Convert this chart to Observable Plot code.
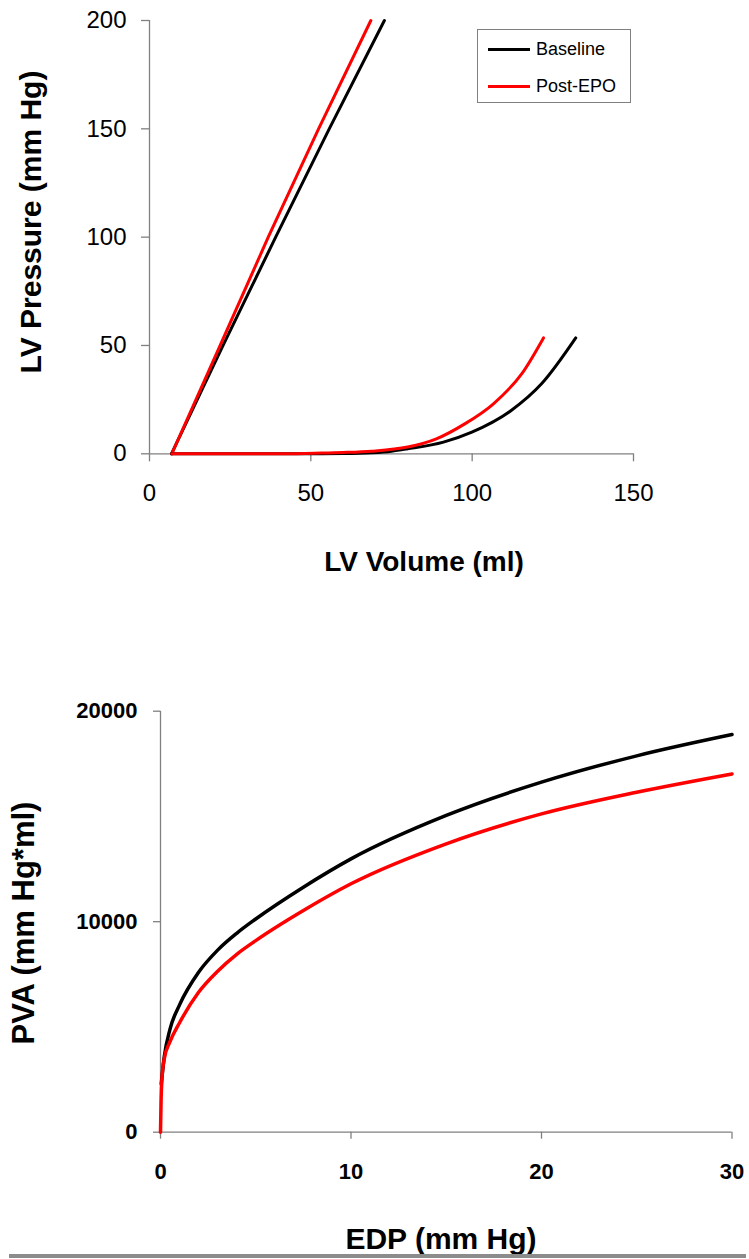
<!DOCTYPE html>
<html>
<head>
<meta charset="utf-8">
<script src="https://cdn.jsdelivr.net/npm/d3@7"></script>
<script src="https://cdn.jsdelivr.net/npm/@observablehq/plot@0.6"></script>
<style>
  body { margin: 0; background: #fff; }
  #wrap { position: relative; width: 749px; height: 1259px; overflow: hidden; font-family: "Liberation Sans", Arial, sans-serif; background: #fff; }
  .chart { position: absolute; left: 0; }
  .t { position: absolute; white-space: nowrap; line-height: 1; font-weight: bold; color: #000; transform: translate(-50%, -50%); }
  .r { transform: translate(-50%, -50%) rotate(-90deg); }
  #legend { position: absolute; left: 477px; top: 29px; width: 152px; height: 72px; border: 1.5px solid #808080; background: #fff; }
  .lg-line { position: absolute; left: 10px; width: 42px; height: 3px; }
  .lg-text { position: absolute; left: 58px; font-size: 18px; line-height: 1; color: #000; transform: translateY(-50%); }
  #rulebar { position: absolute; left: 9px; top: 1254px; width: 737px; height: 4px; background: #8c8c8c; }
</style>
</head>
<body>
<div id="wrap"></div>
<script>
// ---------- data ----------
const groups = ["Baseline", "Post-EPO"];
const groupColors = ["#000000", "#ff0000"];

// Top chart: pressure–volume relations
const espvrPressure = [0, 50, 100, 150, 200];
const espvrVolBaseline = [6.8, 22.8, 39.1, 55.7, 72.8];
const espvrVolPostEPO = [6.9, 21.9, 36.8, 52.4, 68.6];

const edpvrVolBaseline = [6.8, 30, 50, 60, 68.9, 75, 80, 91.1, 99.9, 112.1, 121.5, 132.1];
const edpvrPresBaseline = [0, 0, 0, 0.1, 0.5, 1.2, 2.3, 5.4, 10, 20, 32.3, 53.5];
const edpvrVolPostEPO = [6.9, 30, 40, 51.2, 60, 68.9, 80, 88.9, 97.7, 106.6, 115.4, 122.1];
const edpvrPresPostEPO = [0, 0, 0, 0.3, 0.6, 1.2, 3.1, 6.9, 13.8, 23.1, 37, 53.5];

const volumeTicks = [0, 50, 100, 150];
const pressureTicks = [0, 50, 100, 150, 200];

// Bottom chart: PVA vs EDP
const edpBaseline = [0.04, 0.2, 0.5, 1, 2, 3, 4, 5, 7.5, 10, 15, 20, 25, 30];
const pvaBaseline = [2300, 3600, 4900, 6050, 7600, 8650, 9450, 10130, 11640, 12985, 15050, 16630, 17880, 18890];
const edpPostEPO = [0, 0.03, 0.08, 0.2, 0.5, 1, 2, 3, 4, 5, 7.5, 10, 15, 20, 25, 30];
const pvaPostEPO = [0, 1500, 2600, 3500, 4300, 5200, 6650, 7650, 8450, 9100, 10530, 11800, 13700, 15120, 16150, 17020];

const edpTicks = [0, 10, 20, 30];
const pvaTicks = [0, 10000, 20000];

// ---------- tables ----------
const espvrRows = [
  ...espvrPressure.map((p, i) => ({group: groups[0], v: espvrVolBaseline[i], p})),
  ...espvrPressure.map((p, i) => ({group: groups[1], v: espvrVolPostEPO[i], p}))
];
const edpvrRows = [
  ...edpvrVolBaseline.map((v, i) => ({group: groups[0], v, p: edpvrPresBaseline[i]})),
  ...edpvrVolPostEPO.map((v, i) => ({group: groups[1], v, p: edpvrPresPostEPO[i]}))
];
const pvaRows = [
  ...edpBaseline.map((e, i) => ({group: groups[0], e, pva: pvaBaseline[i]})),
  ...edpPostEPO.map((e, i) => ({group: groups[1], e, pva: pvaPostEPO[i]}))
];

const axisGray = "#808080";
const font = "Liberation Sans, Arial, sans-serif";
const wrap = document.getElementById("wrap");

// ---------- top chart ----------
const topChart = Plot.plot({
  width: 749, height: 600,
  marginLeft: 149, marginRight: 116, marginTop: 20, marginBottom: 146.7,
  style: {fontFamily: font, background: "transparent", overflow: "visible"},
  x: {domain: [0, 150]},
  y: {domain: [0, 200]},
  color: {domain: groups, range: groupColors},
  marks: [
    Plot.axisX({ticks: volumeTicks, tickSize: 8, tickPadding: 22, fontSize: 24, stroke: axisGray, strokeWidth: 1.3, fill: "#000", label: null, tickFormat: d => String(d)}),
    Plot.axisY({ticks: pressureTicks, tickSize: 8, tickPadding: 15, fontSize: 24, stroke: axisGray, strokeWidth: 1.3, fill: "#000", label: null, tickFormat: d => String(d)}),
    Plot.ruleY([0], {stroke: axisGray, strokeWidth: 1.3}),
    Plot.ruleX([0], {stroke: axisGray, strokeWidth: 1.3}),
    Plot.line(espvrRows, {x: "v", y: "p", z: "group", stroke: "group", strokeWidth: 3, curve: "linear"}),
    Plot.line(edpvrRows, {x: "v", y: "p", z: "group", stroke: "group", strokeWidth: 3, curve: "monotone-x"})
  ]
});
topChart.classList.add("chart");
topChart.style.top = "0px";
wrap.appendChild(topChart);

// ---------- bottom chart ----------
const bottomChart = Plot.plot({
  width: 749, height: 659,
  marginLeft: 160, marginRight: 17.5, marginTop: 110.7, marginBottom: 127.3,
  style: {fontFamily: font, background: "transparent", overflow: "visible"},
  x: {domain: [0, 30]},
  y: {domain: [0, 20000]},
  color: {domain: groups, range: groupColors},
  marks: [
    Plot.axisX({ticks: edpTicks, tickSize: 7, tickPadding: 24, fontSize: 22, fontWeight: "bold", stroke: axisGray, strokeWidth: 1.3, fill: "#000", label: null, tickFormat: d => String(d)}),
    Plot.axisY({ticks: pvaTicks, tickSize: 7, tickPadding: 16, fontSize: 22, fontWeight: "bold", stroke: axisGray, strokeWidth: 1.3, fill: "#000", label: null, tickFormat: d => String(d)}),
    Plot.ruleY([0], {stroke: axisGray, strokeWidth: 1.3}),
    Plot.ruleX([0], {stroke: axisGray, strokeWidth: 1.3}),
    Plot.line(pvaRows, {x: "e", y: "pva", z: "group", stroke: "group", strokeWidth: 3.5, curve: "monotone-x"})
  ]
});
bottomChart.classList.add("chart");
bottomChart.style.top = "600px";
wrap.appendChild(bottomChart);

// ---------- titles ----------
function addTitle(text, x, y, size, rotated) {
  const d = document.createElement("div");
  d.className = "t" + (rotated ? " r" : "");
  d.textContent = text;
  d.style.left = x + "px";
  d.style.top = y + "px";
  d.style.fontSize = size + "px";
  wrap.appendChild(d);
}
addTitle("LV Pressure (mm Hg)", 31, 222, 30, true);
addTitle("LV Volume (ml)", 424, 562, 28, false);
addTitle("PVA (mm Hg*ml)", 22.5, 923, 31, true);
addTitle("EDP (mm Hg)", 441, 1238.5, 30, false);

// ---------- legend ----------
const legend = document.createElement("div");
legend.id = "legend";
const lgY = [19, 56];
groups.forEach((g, i) => {
  const ln = document.createElement("div");
  ln.className = "lg-line";
  ln.style.top = (lgY[i] - 1.5) + "px";
  ln.style.background = groupColors[i];
  legend.appendChild(ln);
  const tx = document.createElement("div");
  tx.className = "lg-text";
  tx.style.top = lgY[i] + "px";
  tx.textContent = g;
  legend.appendChild(tx);
});
wrap.appendChild(legend);

const bar = document.createElement("div");
bar.id = "rulebar";
wrap.appendChild(bar);
</script>
</body>
</html>
